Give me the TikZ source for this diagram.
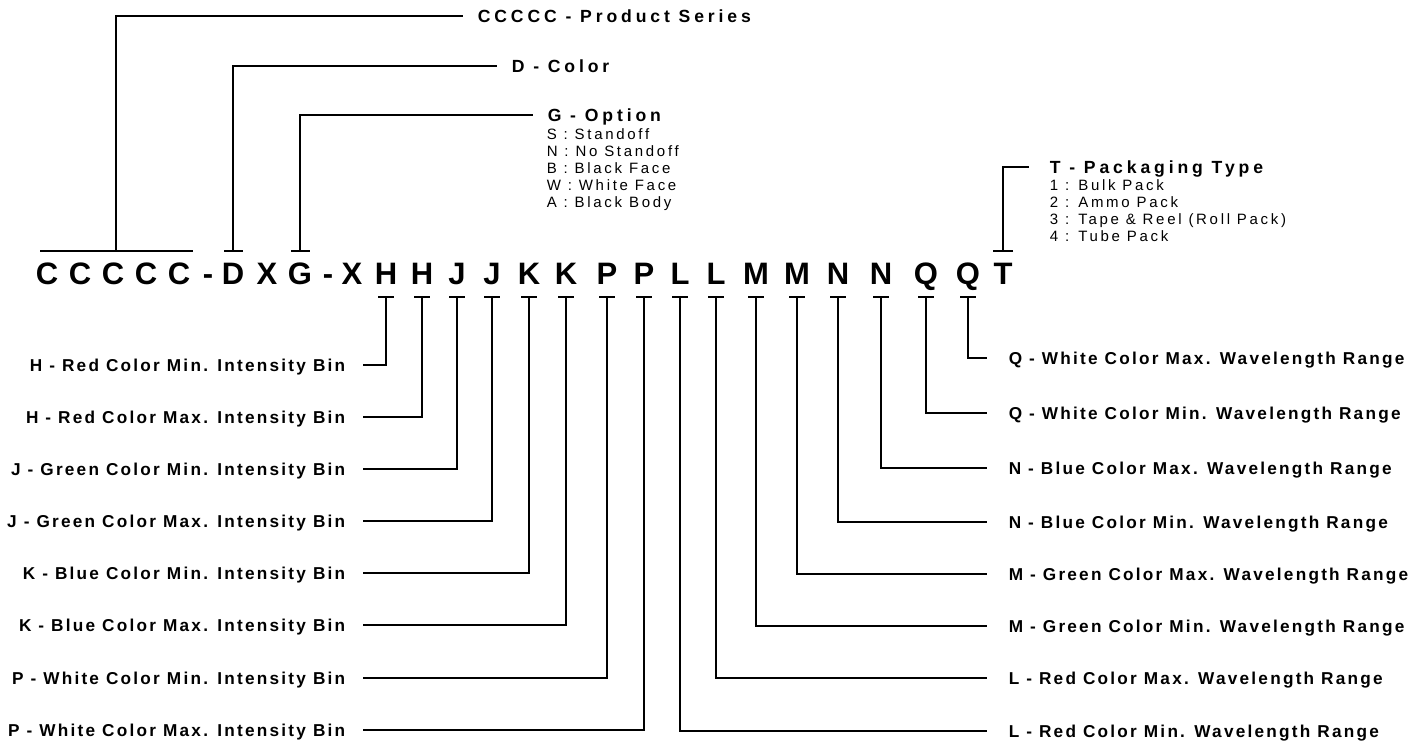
\documentclass[tikz,border=0pt]{standalone}
\usepackage{fontspec}
\setmainfont{Liberation Sans}
\newfontfamily\codefont{Liberation Sans}
\newfontfamily\headfont{Liberation Sans}[LetterSpace=22]
\newfontfamily\labelfont{Liberation Sans}[LetterSpace=13]
\newfontfamily\listfont{Liberation Sans}[LetterSpace=18]
\usetikzlibrary{calc}
\usetikzlibrary{positioning}
\usetikzlibrary{arrows.meta}

\begin{document}
\begin{tikzpicture}[x=0.5pt, y=-0.5pt, line width=0.8pt, draw=black]
    \tikzstyle{codeletter}=[anchor=base, inner sep=0pt, font=\codefont\bfseries\fontsize{15.5}{15.5}\selectfont]
    \tikzstyle{lbl}=[inner xsep=8.5pt, inner ysep=0pt, text height=6.15pt, text depth=0pt, font=\labelfont\bfseries\fontsize{8.6}{9}\selectfont]
    \tikzstyle{lbl left}=[lbl, anchor=east]
    \tikzstyle{lbl right}=[lbl, anchor=west, inner xsep=10.5pt]
    \tikzstyle{heading}=[anchor=west, inner xsep=7pt, inner ysep=0pt, text height=6.3pt, text depth=0pt, font=\headfont\bfseries\fontsize{8.8}{9}\selectfont]
    \tikzstyle{optlist}=[anchor=north west, inner sep=0pt, align=left, font=\listfont\fontsize{7.5}{8.5}\selectfont]
    \tikzstyle{tickbar}=[{Bar[width=8pt]}-]

    \useasboundingbox (0,0) rectangle (1424,742);

    % part number
    \node[codeletter] (c1) at (47,285) {C};
    \node[codeletter] (c2) at (80,285) {C};
    \node[codeletter] (c3) at (113,285) {C};
    \node[codeletter] (c4) at (146,285) {C};
    \node[codeletter] (c5) at (179,285) {C};
    \node[codeletter] (dash1) at (208,285) {-};
    \node[codeletter] (d) at (233,285) {D};
    \node[codeletter] (x1) at (267,285) {X};
    \node[codeletter] (g) at (300,285) {G};
    \node[codeletter] (dash2) at (328,285) {-};
    \node[codeletter] (x2) at (352,285) {X};
    \node[codeletter] (h1) at (386,285) {H};
    \node[codeletter] (h2) at (422,285) {H};
    \node[codeletter] (j1) at (457,285) {J};
    \node[codeletter] (j2) at (492,285) {J};
    \node[codeletter] (k1) at (529,285) {K};
    \node[codeletter] (k2) at (566,285) {K};
    \node[codeletter] (p1) at (607,285) {P};
    \node[codeletter] (p2) at (644,285) {P};
    \node[codeletter] (l1) at (680,285) {L};
    \node[codeletter] (l2) at (716,285) {L};
    \node[codeletter] (m1) at (756,285) {M};
    \node[codeletter] (m2) at (797,285) {M};
    \node[codeletter] (n1) at (838,285) {N};
    \node[codeletter] (n2) at (881,285) {N};
    \node[codeletter] (q1) at (926,285) {Q};
    \node[codeletter] (q2) at (968,285) {Q};
    \node[codeletter] (t) at (1003,285) {T};

    % headings above
    \node[heading] (hc) at (463,16) {CCCCC - Product Series};
    \node[heading] (hd) at (497,66) {D - Color};
    \node[heading] (hg) at (533,115) {G - Option};
    \node[heading, inner xsep=10pt] (ht) at (1029,167) {T - Packaging Type};
    \node[optlist] (lg) at (546,128) {S : Standoff\\N : No Standoff\\B : Black Face\\W : White Face\\A : Black Body};
    \node[optlist] (lt) at (1049,179) {1 : Bulk Pack\\2 : Ammo Pack\\3 : Tape \& Reel (Roll Pack)\\4 : Tube Pack};

    % labels left
    \node[lbl left] (lh1) at (363,365) {H - Red Color Min. Intensity Bin};
    \node[lbl left] (lh2) at (363,417) {H - Red Color Max. Intensity Bin};
    \node[lbl left] (lj1) at (363,469) {J - Green Color Min. Intensity Bin};
    \node[lbl left] (lj2) at (363,521) {J - Green Color Max. Intensity Bin};
    \node[lbl left] (lk1) at (363,573) {K - Blue Color Min. Intensity Bin};
    \node[lbl left] (lk2) at (363,625) {K - Blue Color Max. Intensity Bin};
    \node[lbl left] (lp1) at (363,678) {P - White Color Min. Intensity Bin};
    \node[lbl left] (lp2) at (363,730) {P - White Color Max. Intensity Bin};

    % labels right
    \node[lbl right] (lq2) at (987,358) {Q - White Color Max. Wavelength Range};
    \node[lbl right] (lq1) at (987,413) {Q - White Color Min. Wavelength Range};
    \node[lbl right] (ln2) at (987,468) {N - Blue Color Max. Wavelength Range};
    \node[lbl right] (ln1) at (987,522) {N - Blue Color Min. Wavelength Range};
    \node[lbl right] (lm2) at (987,574) {M - Green Color Max. Wavelength Range};
    \node[lbl right] (lm1) at (987,626) {M - Green Color Min. Wavelength Range};
    \node[lbl right] (ll2) at (987,678) {L - Red Color Max. Wavelength Range};
    \node[lbl right] (ll1) at (987,731) {L - Red Color Min. Wavelength Range};

    % connectors above
    \draw[{Bar[width=76.5pt]}-] ($(c3.base)+(3,-33)$) |- (hc.west);
    \draw[{Bar[width=9.5pt]}-] ($(d.base)+(0,-33)$) |- (hd.west);
    \draw[{Bar[width=9.5pt]}-] ($(g.base)+(0,-33)$) |- (hg.west);
    \draw[{Bar[width=10pt]}-] ($(t.base)+(0,-33)$) |- (ht.west);

    % connectors below
    \draw[tickbar] ($(h1.base)+(0,11)$) |- (lh1.east);
    \draw[tickbar] ($(h2.base)+(0,11)$) |- (lh2.east);
    \draw[tickbar] ($(j1.base)+(0,11)$) |- (lj1.east);
    \draw[tickbar] ($(j2.base)+(0,11)$) |- (lj2.east);
    \draw[tickbar] ($(k1.base)+(0,11)$) |- (lk1.east);
    \draw[tickbar] ($(k2.base)+(0,11)$) |- (lk2.east);
    \draw[tickbar] ($(p1.base)+(0,11)$) |- (lp1.east);
    \draw[tickbar] ($(p2.base)+(0,11)$) |- (lp2.east);
    \draw[tickbar] ($(l1.base)+(0,11)$) |- (ll1.west);
    \draw[tickbar] ($(l2.base)+(0,11)$) |- (ll2.west);
    \draw[tickbar] ($(m1.base)+(0,11)$) |- (lm1.west);
    \draw[tickbar] ($(m2.base)+(0,11)$) |- (lm2.west);
    \draw[tickbar] ($(n1.base)+(0,11)$) |- (ln1.west);
    \draw[tickbar] ($(n2.base)+(0,11)$) |- (ln2.west);
    \draw[tickbar] ($(q1.base)+(0,11)$) |- (lq1.west);
    \draw[tickbar] ($(q2.base)+(0,11)$) |- (lq2.west);
\end{tikzpicture}
\end{document}
